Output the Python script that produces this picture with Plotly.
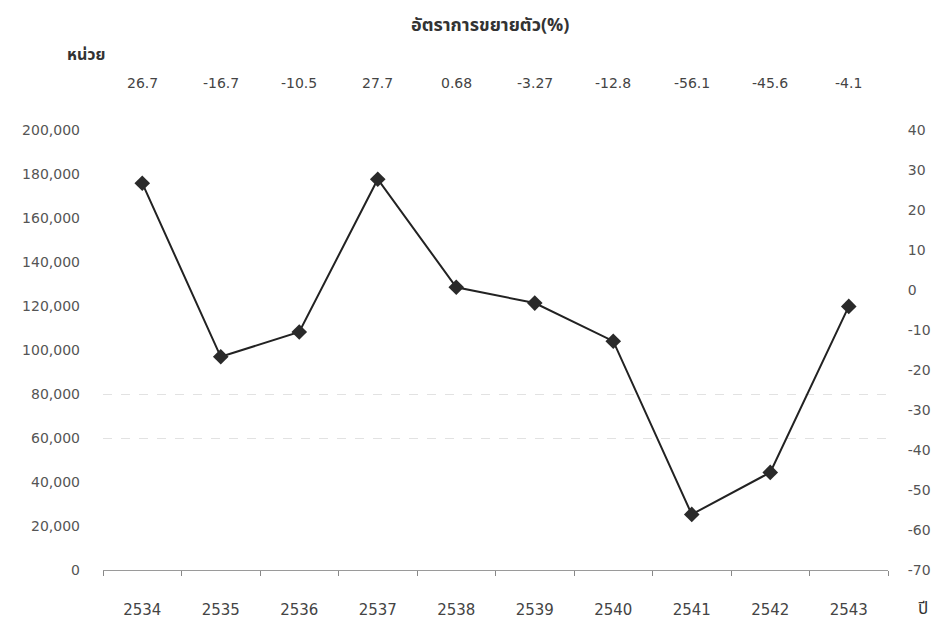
import plotly.graph_objects as go

years = ["2534", "2535", "2536", "2537", "2538", "2539", "2540", "2541", "2542", "2543"]
growth = [26.7, -16.7, -10.5, 27.7, 0.68, -3.27, -12.8, -56.1, -45.6, -4.1]
growth_labels = ["26.7", "-16.7", "-10.5", "27.7", "0.68", "-3.27", "-12.8", "-56.1", "-45.6", "-4.1"]
units_ticks = [0, 20000, 40000, 60000, 80000, 100000, 120000, 140000, 160000, 180000, 200000]
growth_ticks = [-70, -60, -50, -40, -30, -20, -10, 0, 10, 20, 30, 40]
grid_ticks = [60000, 80000, 200000]

FONT = "DejaVu Sans, Noto Sans, sans-serif"
THAI = "Noto Sans Thai, Loma, Garuda, Noto Sans, DejaVu Sans, sans-serif"

L, R, T, B = 103, 44, 130, 53
W, H = 932, 623
pw, ph = W - L - R, H - T - B


def px(x):
    return (x - L) / pw


def py(y):
    return (H - B - y) / ph


fig = go.Figure()
fig.add_trace(go.Scatter(x=years, y=[None] * len(years), yaxis="y", showlegend=False, hoverinfo="skip"))
fig.add_trace(go.Scatter(x=years, y=[None] * len(years), yaxis="y3", showlegend=False, hoverinfo="skip"))
fig.add_trace(go.Scatter(
    x=years, y=growth, yaxis="y2", mode="lines+markers",
    line=dict(color="#222222", width=2),
    marker=dict(symbol="diamond", size=12, color="#2a2a2a"),
    showlegend=False,
))

for i, lab in enumerate(growth_labels):
    fig.add_annotation(x=i, y=py(83), xref="x", yref="paper", text=lab, showarrow=False,
                       xanchor="center", yanchor="middle",
                       font=dict(family=FONT, size=14, color="#444444"))

fig.add_annotation(x=px(86), y=py(55), xref="paper", yref="paper", text="<b>หน่วย</b>", showarrow=False,
                   xanchor="center", yanchor="middle",
                   font=dict(family=THAI, size=16, color="#333333"))
fig.add_annotation(x=px(490), y=py(25), xref="paper", yref="paper", text="<b>อัตราการขยายตัว(%)</b>",
                   showarrow=False, xanchor="center", yanchor="middle",
                   font=dict(family=THAI, size=18, color="#333333"))
fig.add_annotation(x=px(923), y=py(609), xref="paper", yref="paper", text="ปี",
                   showarrow=False, xanchor="center", yanchor="middle",
                   font=dict(family=THAI, size=17, color="#333333"))

fig.update_layout(
    width=W, height=H,
    margin=dict(l=L, r=R, t=T, b=B, autoexpand=False),
    paper_bgcolor="white", plot_bgcolor="white",
    showlegend=False,
    xaxis=dict(
        type="category", range=[-0.5, 9.5], automargin=False,
        showline=True, linecolor="#9a9a9a", linewidth=1,
        ticks="outside", tickson="boundaries", ticklen=5, tickcolor="#888888",
        showgrid=False, zeroline=False,
        tickfont=dict(family=FONT, size=15, color="#444444"),
        ticklabelstandoff=26,
    ),
    yaxis=dict(
        range=[0, 200000], tickvals=units_ticks, tickformat=",", automargin=False,
        showgrid=False, zeroline=False, showline=False,
        tickfont=dict(family=FONT, size=14, color="#555555"),
        ticklabelstandoff=22,
    ),
    yaxis2=dict(
        overlaying="y", side="right", range=[-70, 40], automargin=False,
        tickvals=growth_ticks, ticktext=[str(v) for v in growth_ticks],
        ticks="outside", ticklen=16, tickcolor="rgba(0,0,0,0)",
        showgrid=False, zeroline=False, showline=False,
        tickfont=dict(family=FONT, size=14, color="#555555"),
    ),
    yaxis3=dict(
        overlaying="y", range=[0, 200000], tickvals=grid_ticks, showticklabels=False,
        automargin=False,
        showgrid=True, gridcolor="#e2e2e2", griddash="dash", gridwidth=1, zeroline=False,
    ),
)

fig.write_html("out.html")
